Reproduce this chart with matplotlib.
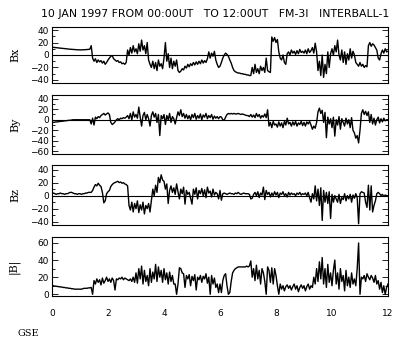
import numpy as np
import matplotlib
matplotlib.use("Agg")
import matplotlib.pyplot as plt
from matplotlib.ticker import MultipleLocator

# time in hours (UT), 0.05 h steps
t = np.arange(241) * 0.05

bx = [
    12.5, 12.3, 12, 11.8, 11.5, 11.3, 11, 10.8, 10.5, 10.3, 10, 9.8, 9.5, 9.3, 9, 8.8, 8.6, 8.5, 8.4, 8.3,
    8.3, 8.2, 8.3, 8.5, 8.6, 8.8, 9, 9.2, 15, -5, -10, -6, -12, -8, -11, -9, -13, -10, -15, -12,
    -8, -5, -2, -1, -6, -8, -10, -9, -12, -11, -14, -13, -15, -12, 8, 0, 12, 3, 15, 5,
    10, 2, 18, 6, 24, 8, 15, 2, 20, -8, -15, -20, -10, -22, -12, -25, -8, -18, -14, -22,
    -5, 20, -10, 2, -20, -5, -22, -10, -18, -8, -25, -28, -26, -22, -24, -18, -21, -15, -19, -14,
    -17, -12, -16, -11, -15, -10, -14, -8, -13, -9, -12, -6, 5, -5, 3, -2, 6, -8, -15, -20,
    -18, -12, -5, 0, 3, 1, -2, -8, -13, -20, -25, -27, -28, -29, -29, -30, -30, -31, -31, -32,
    -32, -33, -33, -20, -30, -15, -28, -22, -30, -18, -25, -20, -28, -5, -25, -27, -28, 29, 22, 28,
    20, 25, 5, -5, -8, 0, -12, -15, 2, 5, 0, 8, 3, 6, 1, 7, 2, 9, 4, 6,
    3, 8, 2, 10, 4, 7, 12, 3, 19, 5, -25, -10, -33, 0, -36, -15, -30, 5, -20, 2,
    10, 0, 15, 5, 24, 0, -8, 8, -12, 5, -15, 2, -8, 10, -5, 6, 0, -12, -15, -18,
    -12, -18, -15, -20, -17, -19, 15, 20, 14, 18, 16, 12, 8, -5, -8, 2, 8, 3, 10, 5,
    6,
]

by = [
    -5, -5, -4.5, -4, -4, -3.5, -3, -3, -2.5, -2, -2, -1.5, -1, -1, -0.5, 0, 0, 0, 0, 0,
    0, 0, 0, 0, 0, 0, 0, 0, -8, 3, -10, 5, 2, 6, 4, 8, 10, 12, 9, 11,
    13, 10, -5, -9, -7, -4, 0, 2, 0, 3, 2, 4, 3, 5, 8, 2, 12, 0, 15, 5,
    10, 3, 24, 5, -12, 8, 14, 0, 10, 2, -12, 8, 15, 5, 12, -5, 10, -30, 8, 2,
    10, -9, 8, 0, 12, -5, 6, 2, -8, 4, 15, 8, 19, 6, 12, 3, 10, 2, 8, 0,
    10, 4, 12, 1, 8, 3, 11, 0, 9, 5, 12, 2, 8, 4, 10, 1, 7, 3, 6, 2,
    6, 5, 0, -1, 5, 10, 12, 11, 12, 11, 12, 11, 11, 12, 11, 10, 11, 10, 9, 8,
    8, 6, 10, 5, 9, 4, 12, 6, 10, 3, 8, 5, 11, 4, 19, -12, -5, -15, -3, -10,
    -8, -14, -4, -12, -6, -15, -3, -10, 3, -8, -5, -12, -4, -10, -3, -12, -6, -9, -3, -11,
    -5, -12, -4, -8, -3, -10, -18, -12, -16, -5, 15, 22, 12, 18, -5, 14, -34, 5, -8, 2,
    -15, 5, -31, 0, -10, 6, -18, 2, -5, -12, 3, -8, 0, -15, 4, -20, -25, -35, -30, -44,
    -20, 12, 19, 10, 16, 8, 15, -5, 10, -8, 3, -10, 0, 5, -6, 2, -4, 3, -2, 0,
    0,
]

bz = [
    3, 4, 3, 2, 3, 3, 4, 3, 3, 2, 3, 3, 4, 5, 5, 4, 3, 3, 2, 3,
    3, 2, 3, 3, 4, 4, 5, 5, 5, 8, 13, 17, 15, 19, 16, 14, 5, -11, -8, 3,
    6, 8, 14, 17, 19, 20, 21, 22, 20, 21, 19, 20, 18, 17, 15, -15, -22, -10, -25, -12,
    -20, -8, -26, -14, -22, -10, -28, -15, -20, -12, -25, -8, 10, 0, 16, 5, 28, 20, 32, 24,
    22, 10, 18, -12, 8, 15, 5, 12, 2, 18, 6, -5, 10, 3, 13, -13, 8, 2, 5, -4,
    -13, 10, 2, 12, -5, 8, 3, 11, 0, 9, -3, 13, 4, 7, -2, 10, 1, 5, 3, -5,
    8, -7, 3, 4, 3, 2, 3, 4, 3, 3, 2, 4, 3, 5, 3, 2, 3, 4, 3, 3,
    3, 2, -5, -4, 2, 5, 0, 6, -3, 4, 1, 13, -6, 8, 2, 5, -2, 4, 0, 6,
    1, 5, -3, 4, 2, 6, 0, 3, -2, 5, 1, 4, 2, 3, 0, 4, 2, 5, 1, 3,
    2, 4, 0, 5, -3, -10, 3, -5, 15, -8, 10, -15, 12, -38, 8, -10, 5, -12, 6, -35,
    2, -10, 0, -5, -10, 2, -12, -3, -6, 3, -8, 0, -5, 2, -10, 1, -4, 3, -3, -43,
    3, 6, 5, 4, -10, -18, 16, -22, 15, -25, -15, -8, 3, 5, 3, 0, 2, -1, 1, 0,
    0,
]

bt = [
    10, 10, 9.5, 9.5, 9, 9, 8.5, 8.5, 8, 8, 7.5, 7.5, 7, 7, 6.5, 6.5, 6, 6, 6, 6,
    6, 6, 6.5, 7, 7, 7, 7.5, 7.5, 8, 0, 16, 12, 18, 14, 17, 11, 19, 13, 16, 20,
    15, 18, 14, 19, 16, 5, 18, 17, 19, 18, 20, 17, 19, 18, 17, 16, 18, 15, 20, 14,
    25, 13, 30, 18, 33, 12, 28, 15, 22, 10, 30, 14, 26, 18, 35, 15, 32, 20, 28, 14,
    30, 17, 25, 12, 26, 15, 22, 12, 12, 0, 12, 31, 30, 25, 24, 8, 22, 18, 23, 10,
    21, 16, 23, 5, 20, 17, 22, 14, 21, 18, 24, 13, 20, 0, 22, 12, 19, 8, 12, 2,
    12, 2, 16, 22, 24, 10, 0, 2, 15, 25, 28, 30, 31, 32, 32, 32, 32, 32, 32, 33,
    32, 33, 39, 20, 30, 16, 34, 18, 28, 12, 30, 25, 15, 0, 32, 28, 14, 31, 12, 30,
    22, 10, 0, 12, 6, 10, 4, 9, 11, 7, 10, 5, 9, 12, 6, 10, 3, 8, 11, 7,
    10, 4, 9, 12, 6, 10, 8, 20, 12, 30, 15, 38, 18, 43, 12, 30, 8, 35, 14, 25,
    10, 28, 40, 12, 25, 6, 30, 15, 22, 4, 28, 10, 20, 8, 25, 12, 18, 10, 30, 60,
    0, 20, 18, 22, 15, 24, 20, 17, 22, 19, 14, 22, 12, 16, 6, 14, 2, 10, 0, 8,
    12,
]

series = [bx, by, bz, bt]
labels = ["Bx", "By", "Bz", "|B|"]
ylims = [(-45, 45), (-65, 47), (-45, 47), (-2, 67)]
yticks = [[-40, -20, 0, 20, 40], [-60, -40, -20, 0, 20, 40],
          [-40, -20, 0, 20, 40], [0, 20, 40, 60]]
# panel boxes in pixels: top, bottom
boxes = [(27, 83), (95, 154), (165, 225), (237, 296)]

W, H = 402, 352
fig = plt.figure(figsize=(W / 100, H / 100), dpi=100)
fig.patch.set_facecolor("white")

for i in range(4):
    top, bot = boxes[i]
    ax = fig.add_axes([52 / W, 1 - bot / H, 336 / W, (bot - top) / H])
    ax.plot(t, series[i], color="black", lw=1.0)
    if i < 3:
        ax.axhline(0, color="black", lw=0.8)
    ax.set_xlim(0, 12)
    ax.set_ylim(*ylims[i])
    ax.set_yticks(yticks[i])
    ax.yaxis.set_minor_locator(MultipleLocator(10))
    ax.tick_params(axis="y", which="major", direction="in", length=4, width=0.6,
                   right=True, labelsize=6.5, pad=2)
    ax.tick_params(axis="y", which="minor", direction="in", length=2, width=0.6,
                   right=True)
    ax.set_xticks([0, 2, 4, 6, 8, 10, 12])
    ax.tick_params(axis="x", length=0, labelsize=6.5, pad=9)
    if i < 3:
        ax.set_xticklabels([])
    for s in ax.spines.values():
        s.set_linewidth(0.8)
    ax.set_ylabel(labels[i], family="DejaVu Serif", fontsize=8)
    ax.yaxis.set_label_coords(-0.095, 0.5)

fig.text(0.536, 0.96, "10 JAN 1997 FROM 00:00UT   TO 12:00UT   FM-3I   INTERBALL-1",
         ha="center", va="center", fontsize=7.8)
fig.text(17 / W, 1 - 334 / H, "GSE", family="DejaVu Serif", fontsize=7,
         ha="left", va="center")

fig.savefig("out.png", dpi=100)
